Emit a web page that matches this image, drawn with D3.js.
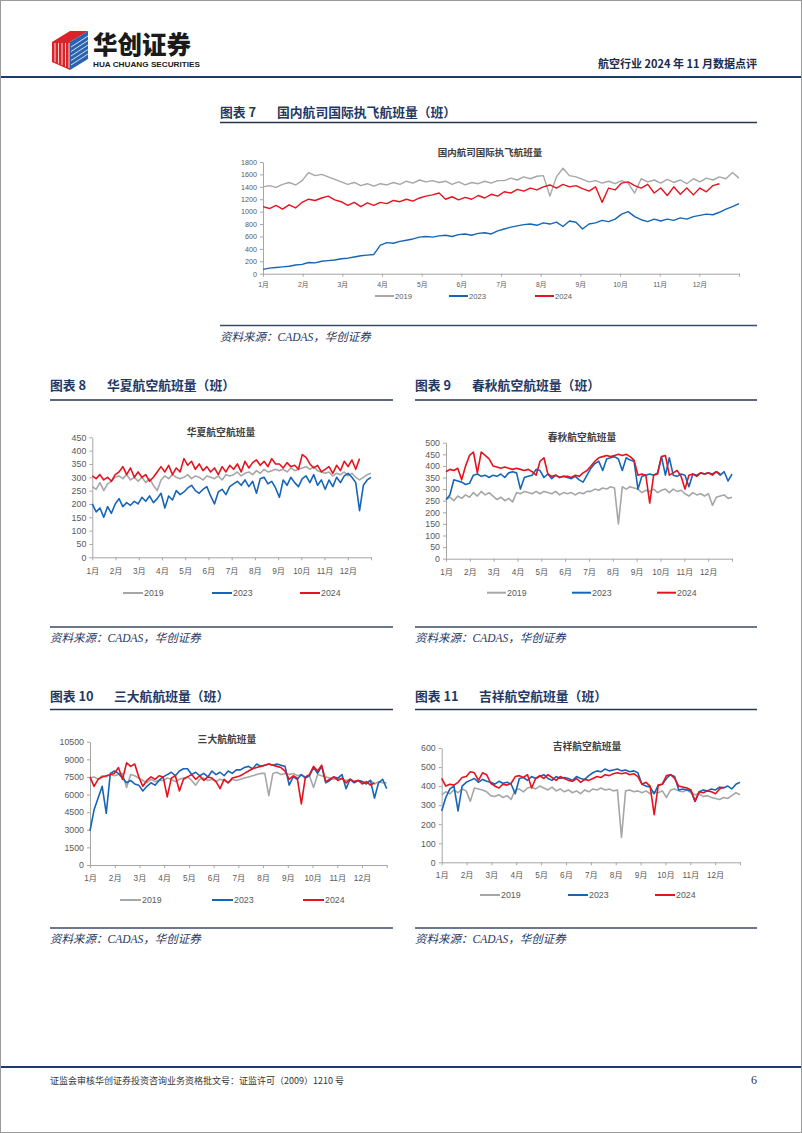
<!DOCTYPE html>
<html><head><meta charset="utf-8">
<script src="https://cdn.jsdelivr.net/npm/d3@7"></script>
<style>
body{margin:0;background:#fff;}
svg{display:block;}
</style></head><body>
<svg id="page" width="802" height="1133"></svg>
<script>
// ---------------- DATA ----------------
const monthLabels = ["1月","2月","3月","4月","5月","6月","7月","8月","9月","10月","11月","12月"];
const seriesNames = ["2019","2023","2024"];
const dayStep = 5; // one reading every 5 days

// 图表7 国内航司国际执飞航班量
const intl2019 = [1400,1420,1390,1440,1470,1430,1500, 1630,1580,1600,1560,1520, 1480,1440,1470,1420,1450,1410,
  1450,1430,1470,1440,1490,1460, 1510,1480,1500,1470,1490,1440,1480, 1430,1470,1450,1490,1460,1500,
  1500,1540,1510,1560,1530,1570, 1580,1250,1560,1700,1580,1560, 1520,1480,1500,1460,1490,1450,
  1500,1460,1300,1530,1480,1510, 1460,1520,1470,1510,1450,1530, 1480,1540,1510,1560,1530,1630,1540];
const intl2023 = [70,90,100,110,120,140,150, 180,175,200,210,220, 240,250,270,290,300,310,
  460,500,490,520,540,560, 590,600,590,610,620,600,630, 640,620,650,660,640,690,
  720,750,770,790,800,780, 820,800,830,760,850,830, 720,800,820,860,840,880,
  960,1000,920,870,840,880, 850,880,860,900,880,920, 940,960,950,990,1040,1080,1130];
const intl2024 = [1080,1050,1100,1040,1110,1060,1150, 1200,1180,1220,1250,1190, 1160,1100,1150,1080,1140,1100,
  1150,1130,1180,1160,1200,1170, 1220,1250,1270,1300,1200,1240,1190, 1230,1200,1260,1220,1280,1250,
  1320,1300,1360,1330,1380,1350, 1400,1430,1380,1440,1400,1420, 1370,1330,1400,1150,1380,1350,
  1460,1480,1420,1380,1440,1300, 1380,1260,1400,1280,1380,1270, 1380,1320,1420,1450];

// 图表8 华夏航空
const hx2019 = [265,255,280,250,275,285,300, 305,295,310,290,300, 285,300,280,295,270,250,
  290,305,295,310,300,295, 300,310,295,305,300,290,305, 300,295,305,290,310,305,
  310,320,305,315,320,310, 325,315,330,320,325,330, 325,330,320,335,325,330,
  335,340,330,340,325,320, 315,320,305,315,310,320, 305,315,300,290,300,310,315];
const hx2023 = [200,170,185,150,190,165,200, 220,190,205,195,210, 200,225,210,230,205,220,
  240,185,230,215,250,235, 245,260,270,250,240,255,265, 230,200,245,255,235,265,
  275,285,270,290,265,285, 240,295,300,275,285,260, 225,290,270,300,280,265,
  295,305,280,310,270,290, 255,290,265,300,280,305, 315,300,280,175,270,290,300];
const hx2024 = [305,295,310,290,300,285,310, 320,340,310,335,300, 320,300,310,285,300,320,
  340,320,345,310,335,320, 370,345,360,330,350,325,340, 320,335,310,340,320,345,
  330,350,320,360,335,355, 365,345,360,340,370,350, 350,335,355,340,345,330,
  385,375,350,335,345,320, 330,340,315,345,325,360, 340,365,330,370];

// 图表9 春秋航空
const cq2019 = [255,265,250,270,260,275,265, 285,270,290,275,285, 270,255,265,250,260,245,
  285,280,290,285,280,290, 280,290,285,280,290,275,285, 280,285,275,285,280,290,
  290,300,295,305,300,310, 305,150,310,300,310,305, 300,285,295,290,300,285,
  295,300,285,300,290,295, 280,270,285,275,280,270, 280,230,265,270,275,260,265];
const cq2023 = [255,275,340,335,330,320,325, 360,365,355,360,350, 360,355,365,350,370,375,
  370,300,350,355,360,385, 380,350,365,345,360,350,355, 350,345,355,340,330,360,
  390,410,420,380,430,435, 440,430,380,435,425,420, 300,355,360,365,360,370,
  440,360,435,360,355,365, 360,310,365,360,370,365, 370,365,375,360,375,335,365];
const cq2024 = [375,385,380,390,340,400,445, 460,370,460,445,430, 400,395,390,395,390,385,
  390,385,380,385,375,360, 420,435,365,355,360,350,355, 355,350,360,355,370,380,
  400,420,435,440,445,440, 445,450,445,450,440,425, 360,365,360,240,360,365,
  440,445,360,370,380,355, 300,360,365,355,370,365, 370,360,375,365];

// 图表10 三大航
const big2019 = [7400,7500,7300,7600,7500,7700,7600, 7700,7800,6600,7700,7600, 7400,7200,7000,7300,7100,7200,
  7200,7400,7300,7100,7300,7400, 7500,7200,6800,7300,7400,7200,7300, 7100,7300,7200,7000,7300,7200,
  7300,7400,7500,7600,7700,7800, 7800,5900,7800,7900,7700,7800, 7700,7800,7600,7700,7500,7600,
  6600,7700,7600,7500,7400,7300, 7400,7300,7200,7300,7100,7200, 7100,7000,7200,6900,7100,7000,7000];
const big2023 = [2900,4700,5700,6700,4400,7800,8000, 7800,7400,7000,7200,6900, 6800,6300,6700,7000,6800,7200,
  7500,7700,7900,7600,8000,8200, 8200,7700,7900,7600,7800,7500,8000, 7700,7900,7600,8000,7800,8100,
  8100,8300,8400,8200,8600,8400, 8500,8600,8500,8600,8500,8400, 6800,7500,7300,7700,7400,7600,
  8300,7800,8400,7000,7200,7500, 7400,7700,6500,7300,7000,7200, 7100,6900,7200,5700,7000,7300,6500];
const big2024 = [7500,6700,7300,7500,7600,7700,7800, 8300,7300,8700,8400,8600, 7500,6700,7200,7500,7300,7600,
  7500,5800,7400,7600,6300,7300, 7500,7700,7300,7600,7200,7500,7400, 7100,6500,7300,7000,7400,7500,
  7600,7800,8000,8200,8300,8400, 8500,8600,8500,8400,8300,8000, 7300,7600,7400,5200,7500,7700,
  8400,8000,8500,7100,7300,7500, 7200,7400,7000,7300,7100,7200, 6900,7100,6800,7000];

// 图表11 吉祥航空
const jx2019 = [355,370,360,380,365,385,375, 320,390,385,380,370, 350,345,355,340,350,330,
  380,385,370,390,395,385, 400,390,380,395,375,385,370, 380,365,375,360,380,370,
  385,380,390,380,385,375, 380,130,375,380,370,375, 365,375,360,370,365,375,
  340,380,385,375,370,380, 365,355,360,345,350,340, 335,330,340,335,350,365,355];
const jx2023 = [270,340,385,400,270,400,420, 430,440,420,435,425, 420,410,425,415,420,410,
  360,440,445,430,450,440, 450,460,440,430,450,440,445, 440,430,450,440,435,455,
  470,480,475,490,480,485, 490,480,485,475,480,470, 410,400,395,360,405,410,
  440,460,450,380,385,380, 375,320,370,380,375,385, 380,395,390,400,385,410,420];
const jx2024 = [440,400,410,405,420,445,450, 475,470,430,470,460, 415,400,390,410,405,415,
  450,455,445,460,390,440, 455,440,460,445,430,450,440, 430,425,440,420,435,430,
  440,450,445,460,455,465, 470,465,470,460,465,450, 410,420,400,250,405,410,
  455,460,440,400,395,390, 380,320,370,365,375,370, 360,385,395];

const yTicks7 = [0,200,400,600,800,1000,1200,1400,1600,1800];
const yTicks8 = [0,50,100,150,200,250,300,350,400,450];
const yTicks9 = [0,50,100,150,200,250,300,350,400,450,500];
const yTicks10 = [0,1500,3000,4500,6000,7500,9000,10500];
const yTicks11 = [0,100,200,300,400,500,600];

// ---------------- STYLE / LAYOUT ----------------
const colors = ["#a6a6a6","#1565b8","#e5131d"];
const navy = "#1f3864";
const cjk = "'Liberation Sans','Noto Sans CJK SC',sans-serif";
const svg = d3.select("#page");

// page border
svg.append("rect").attr("x",0.5).attr("y",0.5).attr("width",801).attr("height",1132)
  .attr("fill","none").attr("stroke","#9a9a9a").attr("stroke-width",1);

// header logo
const logo = svg.append("g");
logo.append("polygon").attr("points","52,42 70,31 88,31 70,42").attr("fill","#d9252a");
logo.append("polygon").attr("points","52,42 70,42 70,70 52,62").attr("fill","#d9252a");
logo.append("polygon").attr("points","70,42 88,31 88,59 70,70").attr("fill","#2a63b0");
for (let k=0;k<5;k++){
  logo.append("line").attr("x1",55+k*3.5).attr("y1",43).attr("x2",55+k*3.5).attr("y2",62+k*1.5)
    .attr("stroke","#fff").attr("stroke-width",0.8);
  logo.append("line").attr("x1",71).attr("y1",47+k*4.5).attr("x2",88).attr("y2",36+k*4.5)
    .attr("stroke","#fff").attr("stroke-width",0.8);
}
svg.append("text").attr("x",93).attr("y",53.5).attr("font-family","'Noto Sans CJK SC',sans-serif")
  .attr("font-weight",900).attr("font-size",24.5).attr("fill","#1a1a1a").text("华创证券");
svg.append("text").attr("x",93).attr("y",66.5).attr("font-family","'Liberation Sans',sans-serif")
  .attr("font-weight",700).attr("font-size",7.6).attr("fill","#1a1a1a")
  .attr("textLength",107).attr("lengthAdjust","spacingAndGlyphs").text("HUA CHUANG SECURITIES");
svg.append("text").attr("x",757).attr("y",68).attr("text-anchor","end")
  .attr("font-family","'Noto Sans CJK SC',serif").attr("font-weight",700).attr("font-size",11)
  .attr("fill","#1a2b4c").text("航空行业 2024 年 11 月数据点评");
svg.append("line").attr("x1",1).attr("x2",801).attr("y1",77).attr("y2",77)
  .attr("stroke","#1f3a6e").attr("stroke-width",2);

// footer
svg.append("line").attr("x1",1).attr("x2",801).attr("y1",1067).attr("y2",1067)
  .attr("stroke","#1f3a6e").attr("stroke-width",2);
svg.append("text").attr("x",50).attr("y",1084).attr("font-family","'Noto Sans CJK SC',serif")
  .attr("font-size",9).attr("fill","#333").text("证监会审核华创证券投资咨询业务资格批文号：证监许可（2009）1210 号");
svg.append("text").attr("x",757).attr("y",1084).attr("text-anchor","end").attr("font-family","'Liberation Serif',serif")
  .attr("font-size",12).attr("fill","#333").text("6");

const charts = [
  {num:"7", name:"国内航司国际执飞航班量", data:[intl2019,intl2023,intl2024], ticks:yTicks7,
   sec:{x:220,x2:757,hy:116.5,hl:122.5,sl:325.5,sy:341,gap:57},
   x0:263,x1:739,yTop:162,yBot:273.7,tickFont:7.2,monthFont:6.8,monthOff:10.8,
   titleX:490,titleY:153,titleFont:9.5,legendY:296,legendX:[375,449,535],legendFont:7.6,legendLen:19,lw:1.4},
  {num:"8", name:"华夏航空航班量", data:[hx2019,hx2023,hx2024], ticks:yTicks8,
   sec:{x:50,x2:393,hy:389.5,hl:400,sl:627,sy:642,gap:57},
   x0:92.3,x1:371,yTop:437.3,yBot:557.3,tickFont:8.8,monthFont:8.2,monthOff:13.7,
   titleX:221,titleY:433,titleFont:9.8,legendY:593,legendX:[123,212,300],legendFont:8.8,legendLen:20,lw:1.6},
  {num:"9", name:"春秋航空航班量", data:[cq2019,cq2023,cq2024], ticks:yTicks9,
   sec:{x:415,x2:757,hy:389.5,hl:400,sl:627,sy:642,gap:57},
   x0:446,x1:732,yTop:442.7,yBot:558.7,tickFont:8.8,monthFont:8.2,monthOff:13,
   titleX:582,titleY:438,titleFont:9.8,legendY:592.7,legendX:[487,572,657],legendFont:8.8,legendLen:19,lw:1.6},
  {num:"10", name:"三大航航班量", data:[big2019,big2023,big2024], ticks:yTicks10,
   sec:{x:50,x2:393,hy:700.5,hl:709.5,sl:928,sy:943,gap:64},
   x0:90,x1:386.7,yTop:741.7,yBot:865,tickFont:8.8,monthFont:8.2,monthOff:13.3,
   titleX:227,titleY:740,titleFont:9.8,legendY:900,legendX:[120,212,303],legendFont:8.8,legendLen:21,lw:1.6},
  {num:"11", name:"吉祥航空航班量", data:[jx2019,jx2023,jx2024], ticks:yTicks11,
   sec:{x:415,x2:757,hy:700.5,hl:709.5,sl:928,sy:943,gap:64},
   x0:441.7,x1:740,yTop:748,yBot:862.3,tickFont:8.8,monthFont:8.2,monthOff:12.7,
   titleX:587,titleY:747,titleFont:9.8,legendY:895,legendX:[480,568,655],legendFont:8.8,legendLen:20,lw:1.6}
];

const monthTicks = d3.range(13).map(k => k*365/12);

charts.forEach(c => {
  const s = c.sec;
  // section heading
  svg.append("text").attr("x",s.x).attr("y",s.hy).attr("font-family","'Noto Sans CJK SC',serif")
    .attr("font-weight",700).attr("font-size",12.8).attr("fill",navy).text("图表 " + c.num);
  svg.append("text").attr("x",s.x+s.gap).attr("y",s.hy).attr("font-family","'Noto Sans CJK SC',serif")
    .attr("font-weight",700).attr("font-size",12.8).attr("fill",navy).text(c.name + "（班）");
  svg.append("line").attr("x1",s.x).attr("x2",s.x2).attr("y1",s.hl).attr("y2",s.hl)
    .attr("stroke","#2a3550").attr("stroke-width",1.5);
  svg.append("line").attr("x1",s.x).attr("x2",s.x2).attr("y1",s.sl).attr("y2",s.sl)
    .attr("stroke","#3a4a6a").attr("stroke-width",1.5);
  svg.append("text").attr("x",s.x).attr("y",s.sy).attr("font-style","italic")
    .attr("font-family","'Liberation Serif','Noto Sans CJK SC',serif").attr("font-size",11.5).attr("fill",navy)
    .text("资料来源：CADAS，华创证券");

  // scales
  const x = d3.scaleLinear().domain([0,365]).range([c.x0,c.x1]);
  const yMax = c.ticks[c.ticks.length-1];
  const y = d3.scaleLinear().domain([0,yMax]).range([c.yBot,c.yTop]);
  const g = svg.append("g");

  // y axis
  const ya = g.append("g").attr("transform",`translate(${c.x0},0)`)
    .call(d3.axisLeft(y).tickValues(c.ticks).tickFormat(d3.format("d")).tickSize(3).tickPadding(3).tickSizeOuter(0));
  ya.select(".domain").attr("stroke","#a6a6a6");
  ya.selectAll(".tick line").attr("stroke","#a6a6a6");
  ya.selectAll("text").attr("font-family","'Liberation Sans',sans-serif").attr("font-size",c.tickFont).attr("fill","#595959");

  // x axis
  const xa = g.append("g").attr("transform",`translate(0,${c.yBot})`)
    .call(d3.axisBottom(x).tickValues(monthTicks).tickFormat((d,i)=> monthLabels[i] || "").tickSize(3).tickSizeOuter(0));
  xa.select(".domain").attr("stroke","#a6a6a6");
  xa.selectAll(".tick line").attr("stroke","#a6a6a6");
  xa.selectAll("text").attr("font-family",cjk).attr("font-size",c.monthFont).attr("fill","#595959")
    .attr("y",c.monthOff).attr("dy","0.35em");

  // lines
  const line = d3.line().x((d,i)=>x(i*dayStep)).y(d=>y(d)).curve(d3.curveLinear);
  c.data.forEach((arr,k)=>{
    g.append("path").datum(arr).attr("d",line).attr("fill","none")
      .attr("stroke",colors[k]).attr("stroke-width",c.lw).attr("stroke-linejoin","round");
  });

  // chart title
  g.append("text").attr("x",c.titleX).attr("y",c.titleY).attr("dy","0.35em").attr("text-anchor","middle")
    .attr("font-family","'Noto Sans CJK SC',sans-serif").attr("font-weight",700).attr("font-size",c.titleFont)
    .attr("fill","#404040").text(c.name);

  // legend
  seriesNames.forEach((nm,k)=>{
    const lx = c.legendX[k];
    g.append("line").attr("x1",lx).attr("x2",lx+c.legendLen).attr("y1",c.legendY).attr("y2",c.legendY)
      .attr("stroke",colors[k]).attr("stroke-width",2);
    g.append("text").attr("x",lx+c.legendLen+1).attr("y",c.legendY).attr("dy","0.35em")
      .attr("font-family","'Liberation Sans',sans-serif").attr("font-size",c.legendFont).attr("fill","#595959").text(nm);
  });
});
</script>
</body></html>
